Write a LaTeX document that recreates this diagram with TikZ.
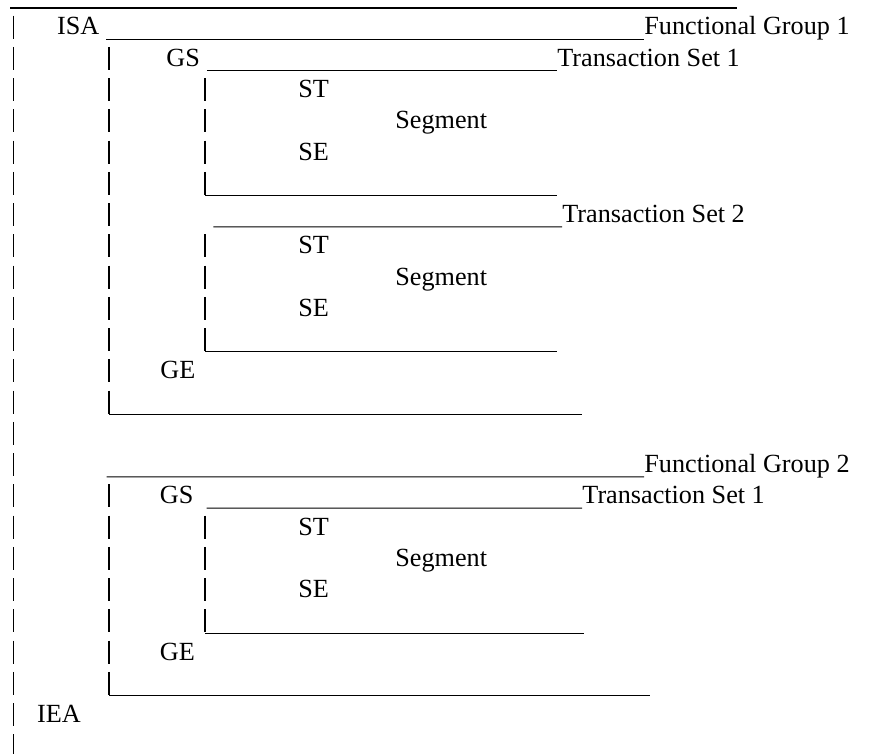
\documentclass[tikz,border=0pt]{standalone}
\usepackage{fontspec}
\setmainfont{Liberation Serif}

\begin{document}
\begin{tikzpicture}[x=0.5pt,y=-15.625pt,
  lbl/.style={anchor=base west,inner sep=0pt,font=\fontsize{13.1}{15.7}\selectfont},
  uline/.style={line width=0.6pt},
  bars/.style={line width=0.65pt,dash pattern=on 11.5pt off 4.125pt}]
  \useasboundingbox (0,-0.12) rectangle (872,24.008);

  % Bar columns
  \draw[bars] (13.3,0.38) -- (13.3,24.116);
  \draw[bars] (109,1.38) -- (109,13.116);
  \draw[bars] (109,15.38) -- (109,22.116);
  \draw[bars] (205,2.38) -- (205,6.116);
  \draw[bars] (205,7.38) -- (205,11.116);
  \draw[bars] (205,16.38) -- (205,20.116);

  % Top line
  \draw[line width=1pt] (10,0.146) -- (736.7,0.146);

  % Functional group 1
  \node[lbl] (isa) at (56.7,1) {ISA};
  \node[lbl] (fgA) at (644,1) {Functional Group 1};
  \draw[uline] ([xshift=3.3pt,yshift=-2.1875pt]isa.base east) -- ([yshift=-2.1875pt]fgA.base west);

  \node[lbl] (gsA) at (166,2) {GS};
  \node[lbl] (tsA) at (557,2) {Transaction Set 1};
  \draw[uline] ([xshift=3.3pt,yshift=-2.1875pt]gsA.base east) -- ([yshift=-2.1875pt]tsA.base west);
  \node[lbl] (stA) at (298,3) {ST};
  \node[lbl] (segA) at (395,4) {Segment};
  \node[lbl] (seA) at (298,5) {SE};
  \draw[uline] (205,6.14) -- (557,6.14);

  \node[lbl] (tsB) at (562,7) {Transaction Set 2};
  \draw[uline] (213.3,7.14) -- ([yshift=-2.1875pt]tsB.base west);
  \node[lbl] (stB) at (298,8) {ST};
  \node[lbl] (segB) at (395,9) {Segment};
  \node[lbl] (seB) at (298,10) {SE};
  \draw[uline] (205,11.14) -- (557,11.14);

  \node[lbl] (geA) at (160,12) {GE};
  \draw[uline] (109,13.14) -- (582,13.14);

  % Functional group 2
  \node[lbl] (fgB) at (644,15) {Functional Group 2};
  \draw[uline] (106.7,15.14) -- ([yshift=-2.1875pt]fgB.base west);

  \node[lbl] (gsB) at (159.5,16) {GS};
  \node[lbl] (tsC) at (582,16) {Transaction Set 1};
  \draw[uline] (206.7,16.14) -- ([yshift=-2.1875pt]tsC.base west);
  \node[lbl] (stC) at (298,17) {ST};
  \node[lbl] (segC) at (395,18) {Segment};
  \node[lbl] (seC) at (298,19) {SE};
  \draw[uline] (205,20.14) -- (584,20.14);

  \node[lbl] (geB) at (159.5,21) {GE};
  \draw[uline] (109,22.14) -- (650,22.14);

  \node[lbl] (iea) at (36.7,23) {IEA};
\end{tikzpicture}
\end{document}
